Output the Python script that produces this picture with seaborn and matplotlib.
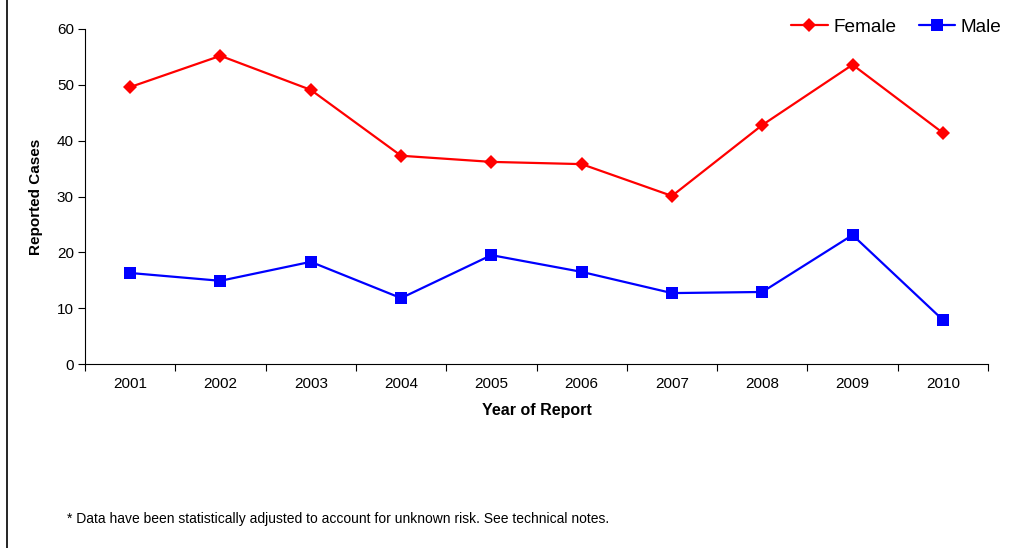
import matplotlib
matplotlib.use("Agg")
import matplotlib.pyplot as plt
import seaborn as sns
import pandas as pd
from matplotlib.lines import Line2D

years = ["2001", "2002", "2003", "2004", "2005", "2006", "2007", "2008", "2009", "2010"]
female = [49.6, 55.2, 49.1, 37.3, 36.2, 35.8, 30.1, 42.8, 53.6, 41.4]
male = [16.3, 14.9, 18.3, 11.8, 19.5, 16.5, 12.7, 12.9, 23.1, 7.9]
yticks = [0, 10, 20, 30, 40, 50, 60]

sns.set_theme(style="white")
plt.rcParams['font.family'] = ['Liberation Sans', 'DejaVu Sans']
plt.rcParams['text.color'] = 'black'
plt.rcParams['axes.labelcolor'] = 'black'
plt.rcParams['xtick.color'] = 'black'
plt.rcParams['ytick.color'] = 'black'

df = pd.DataFrame({
    "pos": list(range(len(years))) * 2,
    "value": female + male,
    "Sex": ["Female"] * len(years) + ["Male"] * len(years),
})

fig = plt.figure(figsize=(10.13, 5.48), dpi=100)
ax = fig.add_axes([85/1013, 1 - 364/548, (988-85)/1013, (364-29)/548])

sns.lineplot(data=df, x="pos", y="value", hue="Sex", style="Sex",
             palette={"Female": "#FF0000", "Male": "#0000FF"},
             markers={"Female": "D", "Male": "s"}, dashes=False,
             markersize=8, linewidth=1.6, markeredgewidth=0, ax=ax, legend=False)
for ln, ms in zip(ax.lines, [7, 9]):
    ln.set_markersize(ms)

ax.set_xlim(-0.5, len(years) - 0.5)
ax.set_ylim(0, 60)
ax.set_yticks(yticks)
ax.set_yticklabels([str(t) for t in yticks], fontsize=11)
ax.set_xticks([i - 0.5 for i in range(len(years) + 1)])
ax.set_xticklabels([""] * (len(years) + 1))
ax.set_xticks(list(range(len(years))), minor=True)
ax.set_xticklabels(years, minor=True, fontsize=11)
ax.tick_params(axis="x", which="minor", length=0, pad=9)
ax.tick_params(axis="x", which="major", length=5, width=0.8, color="black", direction="out", bottom=True)
ax.tick_params(axis="y", length=5, width=0.8, color="black", direction="out", left=True, pad=3)
for s in ["top", "right"]:
    ax.spines[s].set_visible(False)
for s in ["left", "bottom"]:
    ax.spines[s].set_color("black")
    ax.spines[s].set_linewidth(0.8)
ax.grid(False)

ax.set_xlabel("Year of Report", fontsize=11.5, fontweight="bold", labelpad=9)
ax.set_ylabel("Reported Cases", fontsize=11, fontweight="bold", labelpad=10)

handles = [
    Line2D([], [], color="#FF0000", marker="D", markersize=7, linewidth=1.6, markeredgewidth=0),
    Line2D([], [], color="#0000FF", marker="s", markersize=9, linewidth=1.6, markeredgewidth=0),
]
fig.legend(handles, ["Female", "Male"], loc="upper right", bbox_to_anchor=(1.002, 0.99),
           ncol=2, frameon=False, fontsize=13.7, handlelength=1.9, handletextpad=0.3,
           columnspacing=1.2, borderaxespad=0.3)

fig.add_artist(Line2D([7/1013, 7/1013], [0, 1], transform=fig.transFigure, color="black", linewidth=1.2))
fig.text(67/1013, 1 - 519/548, "* Data have been statistically adjusted to account for unknown risk. See technical notes.",
         fontsize=10, va="center", ha="left")

fig.savefig("out.png", dpi=100)
